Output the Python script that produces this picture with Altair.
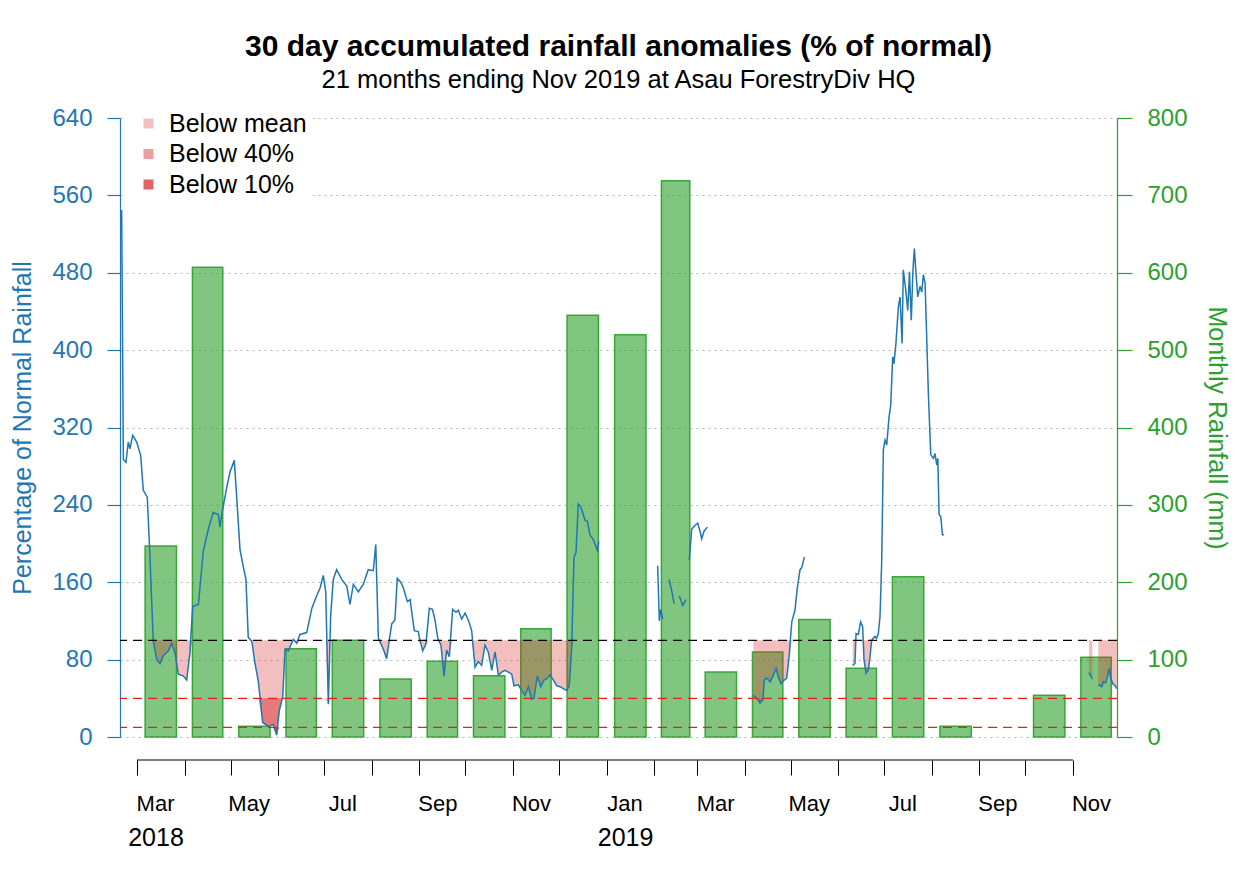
import altair as alt
import pandas as pd

FONT = "Liberation Sans"
BLUE = "#1f77b4"
GREEN = "#2ca02c"

# ---------------- data ----------------
bar_months = ["2018-03", "2018-04", "2018-05", "2018-06", "2018-07", "2018-08", "2018-09",
              "2018-10", "2018-11", "2018-12", "2019-01", "2019-02", "2019-03", "2019-04",
              "2019-05", "2019-06", "2019-07", "2019-08", "2019-09", "2019-10", "2019-11"]
bar_mm = [247, 607, 14, 114, 125, 75, 98, 79, 140, 545, 520, 719, 84, 110,
          152, 89, 207, 14, None, 54, 103]

# day offsets from 2018-03-01 and % of normal; None marks a gap in the record
pct_day = [-10, -8.9, -7.2, -5.7, -4.6, -2.8, -0.2, 2.4, 4.1, 6.7, 8.5, 10.6, 12.8, 15, 17.1,
           20.4, 22.6, 24.8, 26.9, 30.2, 32.4, 34.5, 36.3, 40, 43.2, 46.5, 49.7, 53, 54.1,
           55.2, 58.5, 60.6, 63.4, 65, 67.1, 68.9, 71, 72.5, 74.8, 76.9, 79.1, 81.9, 85.6,
           88.8, 91, 92.7, 95, 96.5, 98.6, 101.9, 104.1, 106.2, 110.6, 113.9, 117.1, 119.3,
           121.4, 123, 124.7, 126.2, 127.9, 130.1, 133.4, 136.7, 138.8, 141, 144.2, 147.5,
           150.7, 154, 155.6, 157.3, 160.5, 162.7, 164.4, 166, 168.1, 169.6, 171.9, 173.6,
           176.2, 178, 179.5, 180.7, 183.3, 184.4, 186.2, 188.3, 190.5, 192.5, 194.2, 196,
           198.1, 200.1, 201.8, 203.5, 205.7, 207.9, 209.4, 211.6, 213.8, 215.9, 218.1,
           220.3, 222.4, 224.6, 226.8, 228.9, 231.2, 233.3, 235.5, 237.7, 239.8, 242, 244.2,
           245.7, 248.5, 250.7, 252.9, 255, 257.2, 258.7, 260.9, 263.1, 265.3, 267, 269.2,
           271.3, 273.5, 275.7, 277.8, 280, 281.7, 283.3, 284.8, 286.1, 287.6, 289.2, 292,
           293.5, 295.2, 297.4, 300, 300.9,
           None,
           339.3, 340.4, 341.3, 342.6,
           None,
           346.7, 348.5, 350,
           None,
           353.4, 355.6, 357.8,
           None,
           359.9, 361.5, 363.7, 365.4, 366.9, 368, 369.6, 371.7,
           None,
           401.7, 403.9, 406, 407.8, 408.9, 410.4, 412.6, 414.7, 416.5, 418, 419.7, 421.2,
           423.4, 425.1, 426.7, 428.8, 430.3, 432.1, 433.2, 434.9,
           None,
           466.4, 467.9, 468.6, 470.1, 471.6, 472.9, 473.8, 475.1, 476.6, 477.7, 478.8, 479.8,
           480.9, 482, 483.1, 484.2, 485.3, 486.4, 487.5, 488.6, 490.1, 491.2, 492.5, 493.3,
           494.6, 496.2, 497.3, 498.6, 499.4, 501, 502.3, 503.4, 504.6, 505.7, 506.6, 507.7,
           508.8, 510.3, 511.4, 512.5, 513.6, 514.7, 515.8, 517.3, 519, 520.1, 521.2, 521.9,
           522.7, 523.8, 524.9, 525.9,
           None,
           620.4, 622.6,
           None,
           626.5, 628.7, 629.8, 631.3, 632.7, 633.5, 634.6, 635.9, 637.4, 638.5]
pct_val = [545, 287, 284, 305, 298, 312, 305, 291, 255, 248, 184, 99, 80, 76, 84,
           89, 97, 87, 65, 63, 59, 87, 135, 137, 192, 215, 232, 230, 217,
           230, 258, 274, 286, 247, 194, 179, 163, 103, 99, 76, 57, 15, 11,
           13, 2, 27, 42, 91, 89, 101, 97, 106, 108, 133, 146, 154,
           167, 150, 34, 125, 163, 173, 163, 156, 137, 158, 150, 158,
           173, 172, 199, 102, 91, 81, 100, 117, 121, 164, 160, 154,
           140, 142, 124, 110, 109, 100, 89, 96, 133, 132, 121, 102,
           95, 63, 90, 83, 132, 129, 131, 122, 128, 121, 110,
           72, 78, 74, 95, 88, 69, 88, 64, 67, 69, 67, 65,
           53, 54, 48, 43, 52, 39, 40, 63, 52, 59, 60, 64,
           59, 53, 52, 50, 48, 53, 93, 186, 191, 241, 238, 224,
           223, 209, 204, 193, 202,
           None,
           177, 120, 132, 122,
           None,
           163, 151, 138,
           None,
           146, 136, 142,
           None,
           183, 215, 219, 221, 213, 205, 213, 217,
           None,
           43, 40, 35, 38, 59, 61, 57, 64, 71, 62, 55, 58,
           61, 85, 119, 131, 154, 173, 175, 186,
           None,
           74, 76, 107, 106, 119, 114, 80, 66, 69, 83, 100, 102,
           104, 102, 107, 124, 180, 297, 307, 302, 331, 343, 393, 386,
           407, 445, 455, 407, 483, 462, 441, 481, 431, 483, 505, 479,
           455, 466, 460, 478, 469, 410, 352, 292, 288, 293, 281, 288,
           230, 228, 209, 209,
           None,
           66.5, 60,
           None,
           54, 52, 57, 56, 64, 71, 61, 55, 53, 50]

fill_kinds = ["Below mean", "Below 40%", "Below 10%"]
fill_levels = [100, 40, 10]
fill_colors = ["rgba(214,39,40,0.30)", "rgba(214,39,40,0.45)", "rgba(214,39,40,0.72)"]

left_ticks = [0, 80, 160, 240, 320, 400, 480, 560, 640]
right_ticks = [0, 100, 200, 300, 400, 500, 600, 700, 800]
year_labels = ["2018", "2019"]
year_months = ["2018-03", "2019-01"]

title_text = "30 day accumulated rainfall anomalies (% of normal)"
subtitle_text = "21 months ending Nov 2019 at Asau ForestryDiv HQ"

# ---------------- tables ----------------
base = pd.Timestamp("2018-03-01")
rows = []
seg = 0
for d, v in zip(pct_day, pct_val):
    if v is None:
        seg += 1
        continue
    rows.append({"date": base + pd.to_timedelta(d, unit="D"), "pct": v, "seg": seg})
line_df = pd.DataFrame(rows)

fill_rows = []
for kind, lev in zip(fill_kinds, fill_levels):
    for r in rows:
        fill_rows.append({"date": r["date"], "lo": min(r["pct"], lev), "hi": lev,
                          "kind": kind, "seg": r["seg"]})
fill_df = pd.DataFrame(fill_rows)

bar_rows = []
for m, mm in zip(bar_months, bar_mm):
    if mm is None:
        continue
    s = pd.Timestamp(m + "-01")
    e = s + pd.offsets.MonthBegin(1)
    span = e - s
    bar_rows.append({"x0": s + span * 0.17, "x1": e - span * 0.17, "mm": mm, "zero": 0})
bar_df = pd.DataFrame(bar_rows)

month_starts = [pd.Timestamp(m + "-01") for m in bar_months]
axis_df = pd.DataFrame({"a": [month_starts[0]], "b": [month_starts[-1]]})
year_df = pd.DataFrame({"date": [pd.Timestamp(m + "-01") for m in year_months],
                        "label": year_labels})
mean_df = pd.DataFrame({"level": [fill_levels[0]]})
low_df = pd.DataFrame({"level": fill_levels[1:]})

# ---------------- scales / guides ----------------
xsc = alt.Scale(domain=[alt.DateTime(year=2018, month=2, date=17, hours=22),
                        alt.DateTime(year=2019, month=11, date=29, hours=16)])
ysc = alt.Scale(domain=[0, 640], nice=False, zero=True)
ysc_r = alt.Scale(domain=[0, 800], nice=False)

tick_vals = [alt.DateTime(year=t.year, month=t.month, date=1) for t in month_starts]

x_axis = alt.Axis(values=tick_vals, title=None, orient="bottom", offset=23, domain=False,
                  tickSize=15, tickColor="black", tickWidth=1, grid=False,
                  labelExpr="month(datum.value) % 2 == 0 ? timeFormat(datum.value, '%b') : ''",
                  labelOffset=18, labelPadding=18, labelFontSize=22, labelColor="black",
                  labelOverlap=False, labelFlush=False, labelBound=False)

left_axis = alt.Axis(values=left_ticks, orient="left", title="Percentage of Normal Rainfall",
                     titleColor=BLUE, labelColor=BLUE, tickColor=BLUE, domainColor=BLUE,
                     tickSize=13, labelPadding=15, labelFontSize=24, titleFontSize=25,
                     titlePadding=16, grid=True, gridColor="#b4b4b4", gridDash=[2, 4],
                     gridWidth=1.2, domainWidth=1.2, tickWidth=1.2)

right_axis = alt.Axis(values=right_ticks, orient="right", title="Monthly Rainfall (mm)",
                      titleColor=GREEN, labelColor=GREEN, tickColor=GREEN, domainColor=GREEN,
                      tickSize=15, labelPadding=15, labelFontSize=24, titleFontSize=25,
                      titlePadding=16, grid=False, domainWidth=1.2, tickWidth=1.2)

legend = alt.Legend(title=None, orient="none", legendX=3, legendY=-13, direction="vertical",
                    fillColor="white", padding=6, symbolType="square", symbolSize=100,
                    symbolStrokeWidth=1, symbolOffset=7, labelFontSize=25, labelFont=FONT,
                    labelColor="black", labelOffset=8, rowPadding=4.5, labelLimit=400)

# ---------------- layers ----------------
bars = alt.Chart(bar_df).mark_bar(fill=GREEN, fillOpacity=0.6, stroke=GREEN,
                                  strokeWidth=1.5, strokeOpacity=0.9).encode(
    x=alt.X("x0:T", scale=xsc, axis=x_axis),
    x2="x1:T",
    y=alt.Y("mm:Q", scale=ysc_r, axis=right_axis),
    y2="zero:Q",
)

fills = alt.Chart(fill_df).mark_area(opacity=1, fillOpacity=1, interpolate="linear").encode(
    x=alt.X("date:T", scale=xsc, axis=x_axis),
    y=alt.Y("lo:Q", scale=ysc, stack=None, axis=left_axis),
    y2="hi:Q",
    color=alt.Color("kind:N", scale=alt.Scale(domain=fill_kinds, range=fill_colors),
                    legend=legend),
    detail="seg:N",
)

line = alt.Chart(line_df).mark_line(color=BLUE, strokeWidth=1.5).encode(
    x=alt.X("date:T", scale=xsc, axis=x_axis),
    y=alt.Y("pct:Q", scale=ysc, axis=None),
    detail="seg:N",
)

rule_mean = alt.Chart(mean_df).mark_rule(color="black", strokeDash=[9, 6],
                                         strokeWidth=1.3).encode(
    y=alt.Y("level:Q", scale=ysc, axis=None))
rule_low = alt.Chart(low_df).mark_rule(color="#ee1c1c", strokeDash=[9, 6],
                                       strokeWidth=1.3).encode(
    y=alt.Y("level:Q", scale=ysc, axis=None))

axis_line = alt.Chart(axis_df).mark_rule(color="black", strokeWidth=1.2).encode(
    x=alt.X("a:T", scale=xsc, axis=x_axis), x2="b:T", y=alt.value(642))

years = alt.Chart(year_df).mark_text(font=FONT, fontSize=25, color="black", align="center",
                                     baseline="middle", dx=19).encode(
    x=alt.X("date:T", scale=xsc, axis=x_axis), y=alt.value(720), text="label:N")

chart = alt.layer(bars, fills, line, rule_mean, rule_low, axis_line, years).resolve_scale(
    y="independent").properties(
    width=997, height=619,
    padding={"left": 112, "top": 110, "right": 115, "bottom": 140},
    autosize=alt.AutoSizeParams(type="none"),
    title=alt.TitleParams(text=title_text, subtitle=subtitle_text, anchor="middle",
                          font=FONT, fontSize=30, fontWeight="bold", color="black",
                          subtitleFont=FONT, subtitleFontSize=25.5, subtitleColor="black",
                          offset=12, subtitlePadding=6),
).configure_view(stroke=None).configure_axis(
    labelFont=FONT, titleFont=FONT, titleFontWeight="normal")

chart.save("out.html", embed_options={"renderer": "svg", "actions": False})
